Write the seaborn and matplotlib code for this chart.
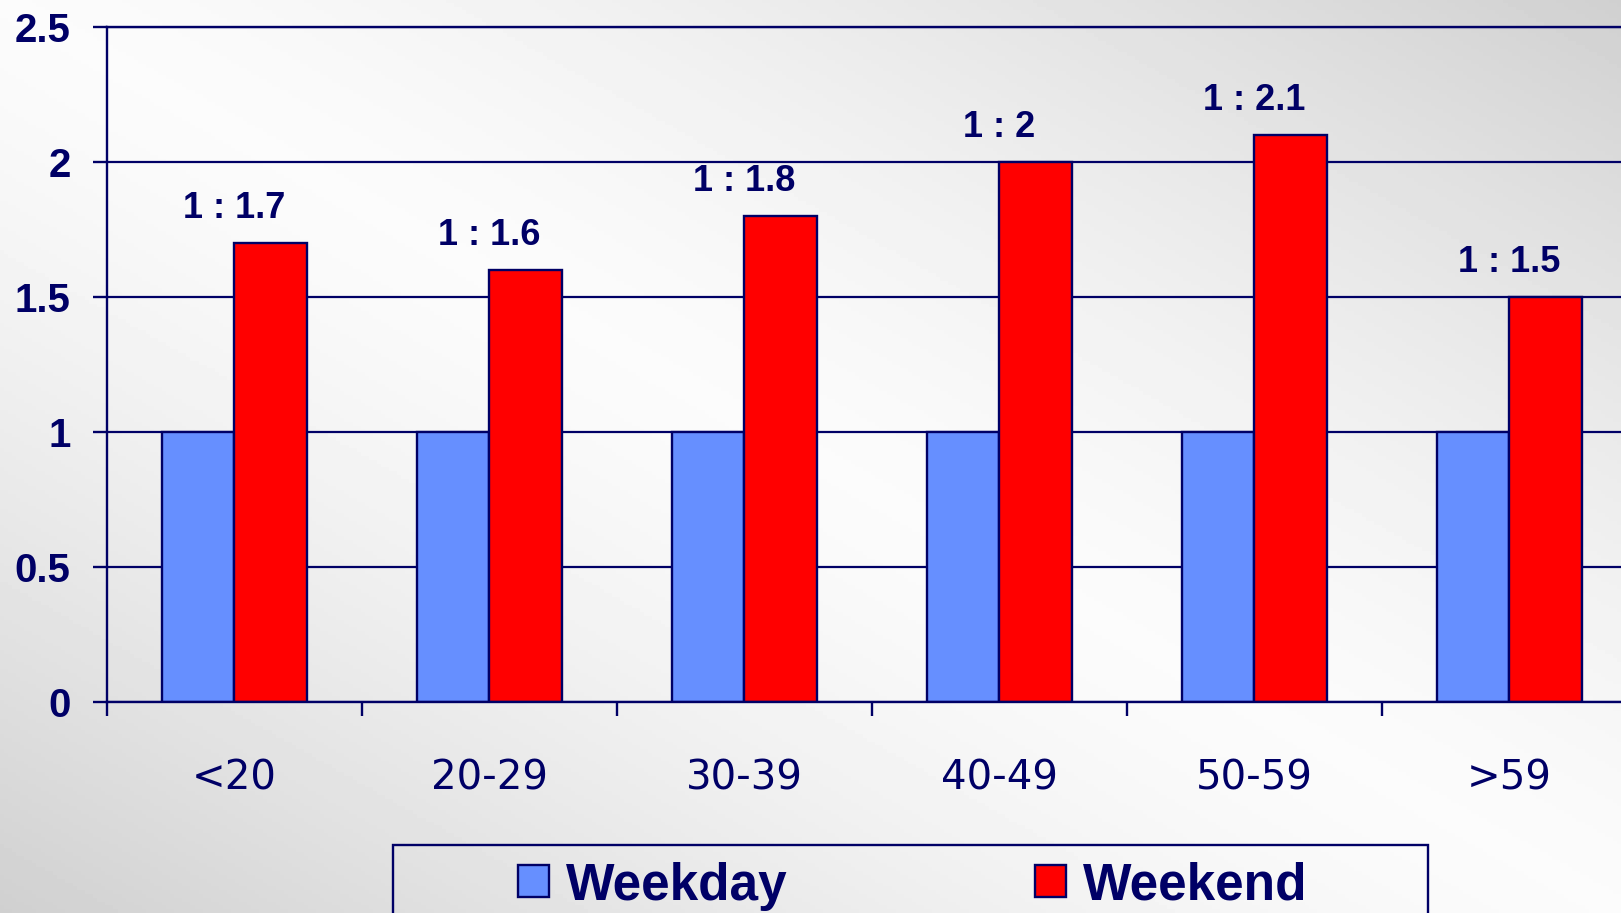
import numpy as np
import pandas as pd
import matplotlib
matplotlib.use("Agg")
import matplotlib.pyplot as plt
from matplotlib.patches import Rectangle
from matplotlib.ticker import FixedLocator
import seaborn as sns

# data
age_groups = ['<20', '20-29', '30-39', '40-49', '50-59', '>59']
weekday = [1, 1, 1, 1, 1, 1]
weekend = [1.7, 1.6, 1.8, 2.0, 2.1, 1.5]
series = ['Weekday', 'Weekend']
y_ticks = [0, 0.5, 1, 1.5, 2, 2.5]

NAVY = '#000066'
colors = {'Weekday': '#668FFF', 'Weekend': '#FF0000'}

df = pd.DataFrame({
    'age': age_groups * 2,
    'ratio': weekday + weekend,
    'day': [series[0]] * len(age_groups) + [series[1]] * len(age_groups),
})

sns.set_theme(style='white')
plt.rcParams['font.family'] = ['Liberation Sans', 'DejaVu Sans']

W, H = 1621, 913
fig = plt.figure(figsize=(W / 100, H / 100), dpi=100)

# gradient background: light diagonal band, grey towards bottom-left and top-right
bg = fig.add_axes([0, 0, 1, 1], zorder=-5)
gx, gy = np.meshgrid(np.linspace(0, 1, 400), np.linspace(0, 1, 240))
t = (gx + (1 - gy)) / 2
shade = 0.985 - 0.17 * np.abs(2 * t - 1) ** 1.4
bg.imshow(shade, cmap='gray', vmin=0, vmax=1, aspect='auto', extent=[0, 1, 0, 1], origin='upper')
bg.axis('off')

ax = fig.add_axes([106.8 / W, 1 - 702 / H, (1637 - 106.8) / W, (702 - 27) / H])
ax.set_facecolor('none')

sns.barplot(data=df, x='age', y='ratio', hue='day', order=age_groups, hue_order=series,
            palette=colors, width=0.57, errorbar=None, edgecolor=NAVY, linewidth=1.7,
            saturation=1, ax=ax)

handles, labels = ax.get_legend_handles_labels()
ax.get_legend().remove()

ax.set_xlim(-0.5, len(age_groups) - 0.5)
ax.set_ylim(0, 2.5)
ax.set_yticks(y_ticks)
ax.set_yticklabels([f'{v:g}' for v in y_ticks])
ax.set_xlabel('')
ax.set_ylabel('')

ax.yaxis.grid(True, color=NAVY, linewidth=1.6)
ax.xaxis.grid(False)
ax.set_axisbelow(True)

for side in ['left', 'bottom', 'top']:
    ax.spines[side].set_visible(True)
    ax.spines[side].set_color(NAVY)
    ax.spines[side].set_linewidth(1.7)
ax.spines['right'].set_visible(False)

ax.xaxis.set_minor_locator(FixedLocator(np.arange(-0.5, len(age_groups), 1.0)))
ax.tick_params(axis='x', which='major', length=0, pad=41, labelsize=29, labelcolor=NAVY)
ax.tick_params(axis='x', which='minor', length=10, width=1.7, color=NAVY, direction='out', bottom=True)
ax.tick_params(axis='y', which='major', length=10, width=1.7, color=NAVY, direction='out',
               left=True, pad=16, labelsize=29, labelcolor=NAVY)
for lbl in ax.get_xticklabels():
    lbl.set_family('DejaVu Sans')
for lbl in ax.get_yticklabels():
    lbl.set_fontweight('bold')

# ratio labels above weekend bars
for i, v in enumerate(weekend):
    ax.annotate(f'1 : {v:g}', xy=(i, v), xytext=(0, 18), textcoords='offset points',
                ha='center', va='baseline', fontsize=26, fontweight='bold', color=NAVY)

# legend box (runs off the bottom edge)
fig.patches.append(Rectangle((393 / W, -0.1), (1428 - 393) / W, (913 - 845) / H + 0.1,
                             transform=fig.transFigure, fill=False, edgecolor=NAVY,
                             linewidth=1.7, zorder=5))
fig.legend(handles, labels, loc='center left', bbox_to_anchor=(518 / W, 1 - 886 / H),
           bbox_transform=fig.transFigure, frameon=False, ncol=2, borderpad=0,
           borderaxespad=0, handlelength=0.6, handleheight=0.58, handletextpad=0.34,
           columnspacing=4.8, labelcolor=NAVY,
           prop={'family': 'Liberation Sans', 'weight': 'bold', 'size': 37})

fig.savefig('out.png', dpi=100)
